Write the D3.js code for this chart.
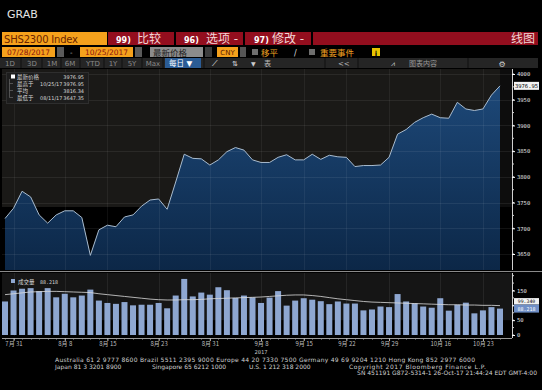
<!DOCTYPE html>
<html>
<head>
<meta charset="utf-8">
<script src="https://cdn.jsdelivr.net/npm/d3@7"></script>
<style>
  html, body { margin: 0; padding: 0; background: #000; }
  svg { display: block; }
  text { font-family: "DejaVu Sans", "Noto Sans CJK SC", sans-serif; }
  .mono { font-family: "DejaVu Sans Mono", "Liberation Mono", monospace; }
</style>
</head>
<body>
<svg id="chart" width="542" height="390"></svg>
<script>
// trading days shown (07/28/2017 - 10/25/2017)
const dates = ["07/28","07/31","08/01","08/02","08/03","08/04","08/07","08/08","08/09","08/10",
  "08/11","08/14","08/15","08/16","08/17","08/18","08/21","08/22","08/23","08/24",
  "08/25","08/28","08/29","08/30","08/31","09/01","09/04","09/05","09/06","09/07",
  "09/08","09/11","09/12","09/13","09/14","09/15","09/18","09/19","09/20","09/21",
  "09/22","09/25","09/26","09/27","09/28","09/29","10/09","10/10","10/11","10/12",
  "10/13","10/16","10/17","10/18","10/19","10/20","10/23","10/24","10/25"];

// last price
const closes = [3719,3739,3772,3761,3726,3710,3726,3734,3734,3721,
  3647.35,3697,3706,3703,3722,3726,3743,3755,3757,3737,
  3790,3844,3836,3835,3823,3833,3849,3857,3852,3833,
  3828,3828,3838,3843,3833,3833,3844,3834,3842,3839,
  3838,3820,3822,3822,3823,3838,3883,3892,3906,3915,
  3922,3915,3914,3945,3932,3929,3932,3959,3976.95];

// volume and its moving average
const volumes = [113,150,156,158,148,158,127,139,127,133,
  153,116,108,105,111,100,102,102,108,90,
  133,189,130,143,136,161,151,125,133,127,
  108,126,148,99,116,124,119,114,104,113,
  106,106,83,86,96,94,138,113,107,96,
  92,124,82,102,109,73,83,94,89];
const volAvg = [136,139,142,145,146,147,147,146,145,144,
  143,139,136,133,130,127,124,121,119,118,
  118,119,119,120,122,123,124,125,126,127,
  128,130,132,134,135,135,133,130,126,122,
  119,116,113,111,110,109,108,107,106,105,
  104,103,102,102,101,101,100,100,99];

const priceTicks = [3650,3700,3750,3800,3850,3900,3950,4000];
const volTicks = [0,50,100,150];
const xTickDates = ["07/31","08/08","08/15","08/23","08/31","09/08","09/15","09/22","09/29","10/16","10/23"];
const xTickLabels = ["7月 31","8月 8","8月 15","8月 23","8月 31","9月 8","9月 15","9月 22","9月 29","10月 16","10月 23"];

const svg = d3.select("#chart");

// ---------- header ----------
svg.append("text").attr("x", 7).attr("y", 18).attr("fill", "#e4e4e4")
  .style("font-size", "11px").text("GRAB");

// row 1
svg.append("rect").attr("x", 2).attr("y", 32).attr("width", 105).attr("height", 13).attr("fill", "#f5a11c");
svg.append("text").attr("x", 4).attr("y", 42.5).attr("fill", "#6a2400")
  .attr("textLength", 74).style("font-size", "10px").text("SHS2300 Index");

const redBoxes = [[108, 174], [176, 243], [245, 311], [313, 538]];
redBoxes.forEach(b => {
  svg.append("rect").attr("x", b[0]).attr("y", 32).attr("width", b[1] - b[0]).attr("height", 13).attr("fill", "#930e1e");
});
const menu = [["99)", 116, "比较", 137], ["96)", 184, "选项 -", 206], ["97)", 254, "修改 -", 272]];
menu.forEach(m => {
  svg.append("text").attr("x", m[1]).attr("y", 42.5).attr("fill", "#ffffff")
    .style("font-size", "8px").style("font-weight", "bold").text(m[0]);
  svg.append("text").attr("x", m[3]).attr("y", 43).attr("fill", "#f1d6d6")
    .style("font-size", "12px").text(m[2]);
});
svg.append("text").attr("x", 535).attr("y", 43).attr("text-anchor", "end").attr("fill", "#f1d6d6")
  .style("font-size", "12px").text("线图");

// row 2
function box(x, w, fill) {
  svg.append("rect").attr("x", x).attr("y", 47).attr("width", w).attr("height", 10).attr("fill", fill);
}
box(2, 53, "#f5a11c");
svg.append("text").attr("x", 28.5).attr("y", 55).attr("text-anchor", "middle").attr("fill", "#8a1010")
  .style("font-size", "7.5px").text("07/28/2017");
box(57, 7, "#5a5a5a");
svg.append("text").attr("x", 70).attr("y", 55).attr("fill", "#bbb").style("font-size", "7px").text("-");
box(80, 53, "#f5a11c");
svg.append("text").attr("x", 106.5).attr("y", 55).attr("text-anchor", "middle").attr("fill", "#8a1010")
  .style("font-size", "7.5px").text("10/25/2017");
box(135, 7, "#5a5a5a");
box(150, 53, "#8c8c8c");
svg.append("text").attr("x", 153).attr("y", 55.5).attr("fill", "#1e1e1e").style("font-size", "8.5px").text("最新价格");
box(205, 7, "#3c3c3c");
box(217, 21, "#f5a11c");
svg.append("text").attr("x", 227.5).attr("y", 55).attr("text-anchor", "middle").attr("fill", "#5a1a00")
  .style("font-size", "7px").text("CNY");
box(240, 6, "#555");
svg.append("rect").attr("x", 252).attr("y", 49).attr("width", 6).attr("height", 6).attr("fill", "#6e6e6e");
svg.append("text").attr("x", 261).attr("y", 56).attr("fill", "#f0a020").style("font-size", "8.5px").text("移平");
svg.append("text").attr("x", 294).attr("y", 56).attr("fill", "#ddd").style("font-size", "8px").text("/");
svg.append("rect").attr("x", 309).attr("y", 49).attr("width", 6).attr("height", 6).attr("fill", "#6e6e6e");
svg.append("text").attr("x", 320).attr("y", 56).attr("fill", "#f0a020").style("font-size", "8.5px").text("重要事件");
svg.append("rect").attr("x", 372).attr("y", 48).attr("width", 8).attr("height", 8).attr("fill", "#e8c400");
svg.append("text").attr("x", 376).attr("y", 55.5).attr("text-anchor", "middle").attr("fill", "#000")
  .style("font-size", "7px").style("font-weight", "bold").text("i");

// row 3
svg.append("rect").attr("x", 0).attr("y", 58).attr("width", 538).attr("height", 10).attr("fill", "#252525");
const ranges = [["1D", 10], ["3D", 32], ["1M", 52], ["6M", 70], ["YTD", 93], ["1Y", 113], ["5Y", 132], ["Max", 153]];
ranges.forEach(r => {
  svg.append("text").attr("x", r[1]).attr("y", 65.5).attr("text-anchor", "middle").attr("fill", "#8a8a8a")
    .style("font-size", "7px").text(r[0]);
});
[21, 42, 61, 80, 104, 122, 142, 163, 204, 325, 358, 468].forEach(x => {
  svg.append("line").attr("x1", x).attr("x2", x).attr("y1", 58).attr("y2", 68).attr("stroke", "#111");
});
svg.append("rect").attr("x", 165).attr("y", 58).attr("width", 36).attr("height", 10).attr("fill", "#2b5c95");
svg.append("text").attr("x", 169).attr("y", 66).attr("fill", "#fff").style("font-size", "7.5px").text("每日 ▼");
svg.append("text").attr("x", 212).attr("y", 66).attr("fill", "#fff").style("font-size", "8px").text("⟋");
svg.append("text").attr("x", 232).attr("y", 66).attr("fill", "#ddd").style("font-size", "7px").text("⇅");
svg.append("text").attr("x", 251).attr("y", 66).attr("fill", "#ccc").style("font-size", "6px").text("▼");
svg.append("text").attr("x", 264).attr("y", 66).attr("fill", "#bbb").style("font-size", "7px").text("表");
svg.append("text").attr("x", 338).attr("y", 66).attr("fill", "#bbb").style("font-size", "7px").text("<<");
svg.append("text").attr("x", 391).attr("y", 66).attr("fill", "#ccc").style("font-size", "7px").text("⩘");
svg.append("text").attr("x", 409).attr("y", 66).attr("fill", "#9a9a9a").style("font-size", "7px").text("图表内容");
svg.append("text").attr("x", 502).attr("y", 66.5).attr("text-anchor", "middle").attr("fill", "#ccc").style("font-size", "8px").text("⚙");

// ---------- scales ----------
const x = d3.scaleLinear().domain([0, dates.length - 1]).range([5, 500]);
const y = d3.scaleLinear().domain([3650, 4000]).range([254, 74]);
const yv = d3.scaleLinear().domain([0, 150]).range([335, 290.5]);
const idx = d => dates.indexOf(d);

// ---------- price panel ----------
svg.append("rect").attr("x", 2).attr("y", 69).attr("width", 498).attr("height", 138).attr("fill", "#1a1917");
svg.append("rect").attr("x", 500).attr("y", 69).attr("width", 12).attr("height", 138).attr("fill", "#0d0d0d");

const defs = svg.append("defs");
const grad = defs.append("linearGradient").attr("id", "fillGrad").attr("x1", 0).attr("x2", 0).attr("y1", 0).attr("y2", 1);
grad.append("stop").attr("offset", "0%").attr("stop-color", "#1d4878");
grad.append("stop").attr("offset", "100%").attr("stop-color", "#0c2747");

const area = d3.area().x((d, i) => x(i)).y0(270).y1(d => y(d));
svg.append("path").datum(closes).attr("d", area).attr("fill", "url(#fillGrad)");

// grid
svg.append("g").selectAll("line").data(priceTicks).join("line")
  .attr("x1", 2).attr("x2", 512).attr("y1", d => Math.round(y(d)) + 0.5).attr("y2", d => Math.round(y(d)) + 0.5)
  .attr("stroke", "#ffffff").attr("stroke-opacity", 0.07);
svg.append("g").selectAll("line").data(xTickDates).join("line")
  .attr("x1", d => Math.round(x(idx(d))) + 0.5).attr("x2", d => Math.round(x(idx(d))) + 0.5)
  .attr("y1", 69).attr("y2", 270)
  .attr("stroke", "#ffffff").attr("stroke-opacity", 0.06);

const line = d3.line().x((d, i) => x(i)).y(d => y(d));
svg.append("path").datum(closes).attr("d", line).attr("fill", "none")
  .attr("stroke", "#a9bccf").attr("stroke-width", 1);

// legend
const lg = svg.append("g").attr("class", "mono");
lg.append("rect").attr("x", 6.5).attr("y", 72.5).attr("width", 82).attr("height", 31)
  .attr("fill", "#1d1d1d").attr("stroke", "#2e2e2e");
lg.append("rect").attr("x", 11).attr("y", 74.5).attr("width", 4).attr("height", 4).attr("fill", "#fff");
lg.append("path").attr("d", "M9.5,79 V97.5 M9.5,83.5 H13 M9.5,90.5 H13 M9.5,97.5 H13")
  .attr("stroke", "#777").attr("fill", "none").attr("stroke-width", 0.6);
const maxI = closes.indexOf(d3.max(closes));
const minI = closes.indexOf(d3.min(closes));
const legendRows = [
  ["最新价格", "", d3.format(".2f")(closes[closes.length - 1])],
  ["最高于", dates[maxI] + "/17", d3.format(".2f")(d3.max(closes))],
  ["平均", "", "3816.34"],
  ["最低于", dates[minI] + "/17", d3.format(".2f")(d3.min(closes))]
];
legendRows.forEach((r, i) => {
  const yy = 79 + i * 6.9;
  lg.append("text").attr("x", 17).attr("y", yy).attr("fill", "#d8d8d8").style("font-size", "5.5px")
    .style("font-family", "'Noto Sans CJK SC'").text(r[0]);
  if (r[1]) lg.append("text").attr("x", 40).attr("y", yy).attr("fill", "#d8d8d8").style("font-size", "5px").text(r[1]);
  lg.append("text").attr("x", 84).attr("y", yy).attr("text-anchor", "end").attr("fill", "#d8d8d8")
    .style("font-size", "5px").text(r[2]);
});

// right price axis
const minorPrice = d3.range(3650, 4001, 25);
const pAxis = svg.append("g").attr("transform", "translate(512,0)");
pAxis.append("line").attr("x1", 0.5).attr("x2", 0.5).attr("y1", 69).attr("y2", 270).attr("stroke", "#cfcfcf");
pAxis.selectAll(".mt").data(minorPrice).join("line")
  .attr("x1", 0).attr("x2", 2).attr("y1", d => y(d)).attr("y2", d => y(d)).attr("stroke", "#cfcfcf");
pAxis.call(d3.axisRight(y).tickValues(priceTicks).tickSize(3).tickFormat(d3.format("d")))
  .call(g => g.select(".domain").remove())
  .call(g => g.selectAll(".tick line").attr("stroke", "#fff"))
  .call(g => g.selectAll(".tick text").attr("fill", "#e6e6e6").attr("x", 5).style("font-size", "5.5px")
    .attr("class", "mono"));
// last price tag
const lastY = y(closes[closes.length - 1]);
svg.append("rect").attr("x", 514).attr("y", lastY - 4).attr("width", 25).attr("height", 8).attr("fill", "#f2f2f2");
svg.append("text").attr("class", "mono").attr("x", 526.5).attr("y", lastY + 2).attr("text-anchor", "middle")
  .attr("fill", "#000").style("font-size", "5.5px").text(d3.format(".2f")(closes[closes.length - 1]));

// panel separator
svg.append("line").attr("x1", 0).attr("x2", 542).attr("y1", 271.5).attr("y2", 271.5).attr("stroke", "#8a8a8a");

// ---------- volume panel ----------
svg.append("rect").attr("x", 2).attr("y", 273).attr("width", 510).attr("height", yv(50) - 273).attr("fill", "#151515");
svg.append("g").selectAll("line").data(xTickDates).join("line")
  .attr("x1", d => Math.round(x(idx(d))) + 0.5).attr("x2", d => Math.round(x(idx(d))) + 0.5)
  .attr("y1", 273).attr("y2", 336)
  .attr("stroke", "#ffffff").attr("stroke-opacity", 0.07);

svg.append("g").selectAll("rect").data(volumes).join("rect")
  .attr("x", (d, i) => x(i) - 3).attr("width", 6)
  .attr("y", d => yv(d)).attr("height", d => yv(0) - yv(d))
  .attr("fill", "#8ea7d1");

const maLine = d3.line().x((d, i) => x(i)).y(d => yv(d));
svg.append("path").datum(volAvg).attr("d", maLine).attr("fill", "none")
  .attr("stroke", "#dcdcdc").attr("stroke-width", 0.8);

// volume legend
svg.append("rect").attr("x", 11).attr("y", 279).attr("width", 4).attr("height", 4).attr("fill", "#8ea7d1");
svg.append("text").attr("x", 18).attr("y", 283.5).attr("fill", "#d8d8d8").style("font-size", "5.5px")
  .style("font-family", "'Noto Sans CJK SC'").text("成交量");
svg.append("text").attr("class", "mono").attr("x", 40).attr("y", 283.5).attr("fill", "#d8d8d8")
  .style("font-size", "5px").text("88.218");

// volume axis (the 100 label sits under the value tags, as in the terminal)
const vAxis = svg.append("g").attr("transform", "translate(512,0)");
vAxis.append("line").attr("x1", 0.5).attr("x2", 0.5).attr("y1", 273).attr("y2", 338).attr("stroke", "#cfcfcf");
vAxis.selectAll(".mt").data(d3.range(0, 201, 25)).join("line")
  .attr("x1", 0).attr("x2", 2).attr("y1", d => yv(d)).attr("y2", d => yv(d)).attr("stroke", "#cfcfcf");
vAxis.call(d3.axisRight(yv).tickValues(volTicks).tickSize(3).tickFormat(d => d === 100 ? "" : d))
  .call(g => g.select(".domain").remove())
  .call(g => g.selectAll(".tick line").attr("stroke", "#fff"))
  .call(g => g.selectAll(".tick text").attr("fill", "#e6e6e6").attr("x", 5).style("font-size", "5.5px")
    .attr("class", "mono"));
const vY = yv(volumes[volumes.length - 1]);
svg.append("rect").attr("x", 514).attr("y", vY - 10.5).attr("width", 25).attr("height", 6.5).attr("fill", "#f2f2f2");
svg.append("text").attr("class", "mono").attr("x", 526.5).attr("y", vY - 5.6).attr("text-anchor", "middle")
  .attr("fill", "#000").style("font-size", "4.8px").text("99.340");
svg.append("rect").attr("x", 514).attr("y", vY - 4).attr("width", 25).attr("height", 8).attr("fill", "#6f8fc6");
svg.append("text").attr("class", "mono").attr("x", 526.5).attr("y", vY + 2).attr("text-anchor", "middle")
  .attr("fill", "#fff").style("font-size", "5px").text("88.218");

// ---------- x axis ----------
const xAxisY = 338;
svg.append("line").attr("x1", 2).attr("x2", 512).attr("y1", xAxisY + 0.5).attr("y2", xAxisY + 0.5).attr("stroke", "#9a9a9a");
svg.append("g").selectAll("line").data(dates).join("line")
  .attr("x1", (d, i) => Math.round(x(i)) + 0.5).attr("x2", (d, i) => Math.round(x(i)) + 0.5)
  .attr("y1", xAxisY).attr("y2", xAxisY + 1.5).attr("stroke", "#9a9a9a");
const xAxis = d3.axisBottom(x).tickValues(xTickDates.map(idx)).tickSize(3)
  .tickFormat((d, i) => xTickLabels[i]);
svg.append("g").attr("transform", `translate(0,${xAxisY})`).call(xAxis)
  .call(g => g.select(".domain").remove())
  .call(g => g.selectAll(".tick line").attr("stroke", "#bbb"))
  .call(g => g.selectAll(".tick text").attr("fill", "#bdbdbd").attr("y", 4).style("font-size", "6px")
    .style("font-family", "'Noto Sans CJK SC'"));
svg.append("text").attr("class", "mono").attr("x", x(idx("09/08"))).attr("y", 354).attr("text-anchor", "middle")
  .attr("fill", "#bdbdbd").style("font-size", "5.5px").text("2017");

// ---------- footer ----------
const foot = svg.append("g").attr("class", "mono").attr("fill", "#d0d0d0").style("font-size", "6px");
foot.append("text").attr("x", 55).attr("y", 362).attr("textLength", 420)
  .text("Australia 61 2 9777 8600 Brazil 5511 2395 9000 Europe 44 20 7330 7500 Germany 49 69 9204 1210 Hong Kong 852 2977 6000");
foot.append("text").attr("x", 55).attr("y", 368.5).text("Japan 81 3 3201 8900");
foot.append("text").attr("x", 152).attr("y", 368.5).text("Singapore 65 6212 1000");
foot.append("text").attr("x", 249).attr("y", 368.5).text("U.S. 1 212 318 2000");
foot.append("text").attr("x", 349).attr("y", 368.5).attr("textLength", 137).text("Copyright 2017 Bloomberg Finance L.P.");
foot.append("text").attr("x", 537).attr("y", 375).attr("text-anchor", "end")
  .text("SN 451191 G872-5314-1 26-Oct-17 21:44:24 EDT  GMT-4:00");
</script>
</body>
</html>
